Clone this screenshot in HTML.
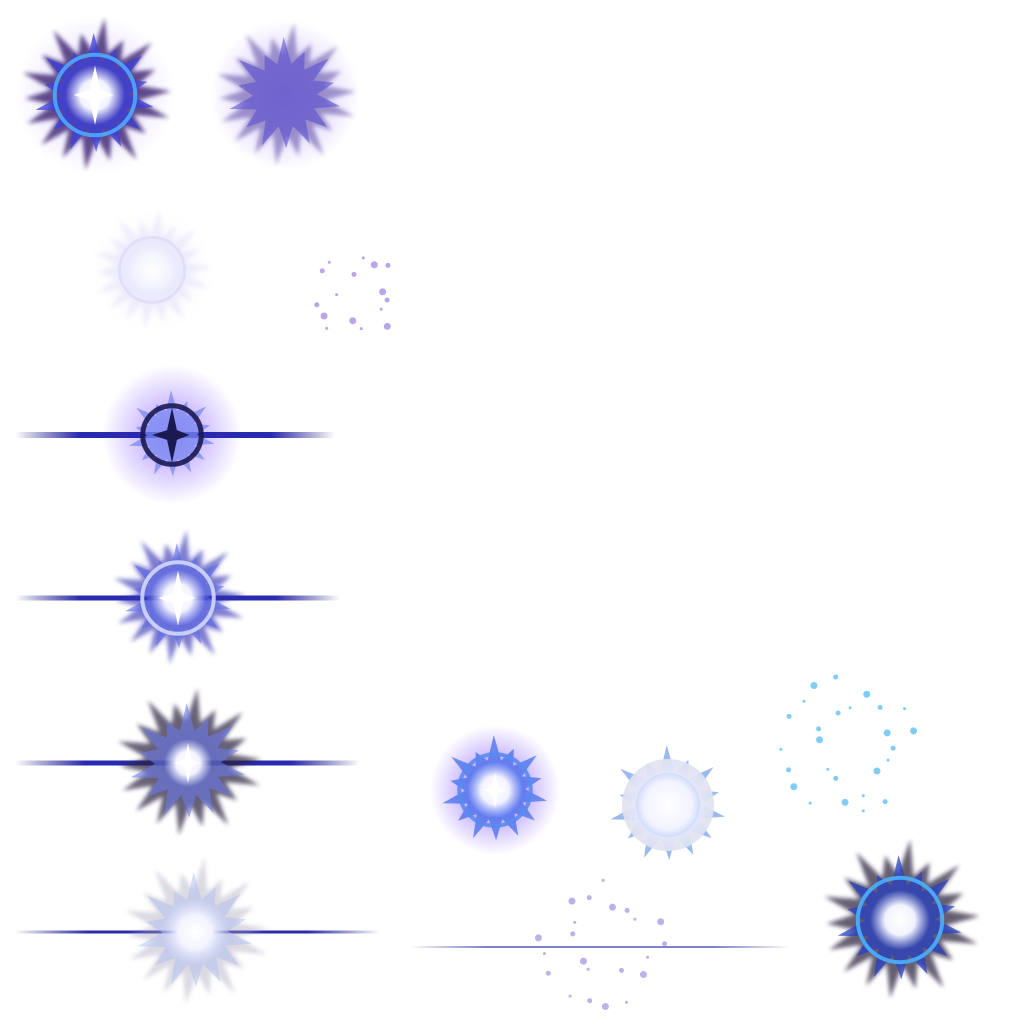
<!DOCTYPE html>
<html><head><meta charset="utf-8"><style>
html,body{margin:0;padding:0;background:#fff;width:1024px;height:1024px;overflow:hidden}
svg{display:block}
</style></head><body>
<svg id="s" width="1024" height="1024" viewBox="0 0 1024 1024" xmlns="http://www.w3.org/2000/svg">
<defs>
<filter id="b2"><feGaussianBlur stdDeviation="2"/></filter>
<radialGradient id="gPurple"><stop offset="0" stop-color="#7a4dff" stop-opacity="0.9"/><stop offset="1" stop-color="#7a4dff" stop-opacity="0"/></radialGradient>
<radialGradient id="gWhite"><stop offset="0" stop-color="#fff"/><stop offset="0.5" stop-color="#f2f3ff"/><stop offset="1" stop-color="#dde0ff" stop-opacity="0"/></radialGradient>
<linearGradient id="gLine" x1="0" x2="1"><stop offset="0" stop-color="#1a1a80" stop-opacity="0"/><stop offset="0.2" stop-color="#2a2ab0"/><stop offset="0.8" stop-color="#2a2ab0"/><stop offset="1" stop-color="#1a1a80" stop-opacity="0"/></linearGradient>
</defs>
<g id="root"></g>
</svg>
<script>
const NS='http://www.w3.org/2000/svg';
const root=document.getElementById('root');
function el(tag,attrs,parent){const e=document.createElementNS(NS,tag);for(const k in attrs)e.setAttribute(k,attrs[k]);(parent||root).appendChild(e);return e;}
function spikes(cx,cy,r0,r1,n,seed){let p=[];for(let i=0;i<n*2;i++){const a=i*Math.PI/n+seed;const f=0.5+0.5*Math.abs(Math.sin(i*2.3+seed*5));const r=i%2?r0:r0+(r1-r0)*f;p.push((cx+r*Math.cos(a)).toFixed(1)+','+(cy+r*Math.sin(a)).toFixed(1));}return p.join(' ');}
function group(name){const g=el('g',{});return g;}
function burst(name,cx,cy,o){
  const g=group(name);
  if(o.glow)el('circle',{cx,cy,r:o.glow,fill:'url(#gPurple)',opacity:o.glowOp||0.8},g);
  if(o.line)el('rect',{x:o.line[0],y:cy-o.line[2]/2,width:o.line[1]-o.line[0],height:o.line[2],fill:'url(#gLine)'},g);
  if(o.dark)el('polygon',{points:spikes(cx,cy,o.r*0.7,o.r*1.25,18,0.3),fill:o.dark,opacity:o.darkOp||0.8,filter:'url(#b2)'},g);
  if(o.blue)el('polygon',{points:spikes(cx,cy,o.r*0.55,o.r,14,1.1),fill:o.blue,opacity:o.blueOp||0.75},g);
  if(o.ring)el('circle',{cx,cy,r:o.r*0.65,fill:'none',stroke:o.ring,'stroke-width':o.ringW||4,opacity:0.9},g);
  if(o.core)el('circle',{cx,cy,r:o.core,fill:'url(#gWhite)'},g);
  if(o.star)el('polygon',{points:spikes(cx,cy,o.star*0.25,o.star,4,0),fill:o.starC||'#fff'},g);
  return g;
}
function dots(name,cx,cy,r,n,col,seed){const g=group(name);for(let i=0;i<n;i++){const a=i*2.39+seed;const d=r*(0.35+0.65*Math.abs(Math.sin(i*1.7+seed)));el('circle',{cx:cx+d*Math.cos(a),cy:cy+d*Math.sin(a),r:1.5+(i%3),fill:col,opacity:0.7},g);}return g;}

burst('effect-dark-burst-1',95,95,{r:62,glow:80,glowOp:0.3,dark:'#3a2070',blue:'#3b3fd8',ring:'#4fa8ff',core:30,star:30});
burst('effect-purple-star',285,95,{r:58,glow:75,glowOp:0.45,dark:'#6a5aa8',darkOp:0.6,blue:'#5a50d0',blueOp:0.6,core:0});
burst('effect-pale-burst',152,270,{r:50,glow:60,glowOp:0.1,dark:'#e0daf5',darkOp:0.4,ring:'#e0daf8',ringW:3,core:35});
dots('effect-scattered-dots-1',355,295,45,16,'#9a80e0',0.5);
burst('effect-dark-star-line',172,435,{r:45,glow:70,glowOp:0.7,line:[15,335,6],blue:'#7a88f0',ring:'#1a1a50',ringW:5,star:28,starC:'#1a1a50'});
burst('effect-blue-burst-line',178,598,{r:55,glow:55,glowOp:0.45,line:[15,340,5],dark:'#3030b0',darkOp:0.6,blue:'#5a6ae8',blueOp:0.6,ring:'#d0d8ff',core:28,star:28});
burst('effect-dark-burst-line',188,763,{r:60,glow:50,glowOp:0.25,line:[15,360,5],dark:'#2a2040',darkOp:0.7,blue:'#6a7ae8',blueOp:0.6,core:24,star:20});
burst('effect-faint-burst-line',195,932,{r:60,glow:40,glowOp:0.1,line:[15,380,3],dark:'#a8a2b8',darkOp:0.4,blue:'#b0c0f0',blueOp:0.5,core:34});
burst('effect-purple-sphere',495,790,{r:55,glow:65,glowOp:0.9,blue:'#3a6ae8',blueOp:0.7,ring:'#5a8af0',core:28,star:18});
burst('effect-white-ring',668,805,{r:60,blue:'#4a80e0',blueOp:0.55,ring:'#e0e2ec',ringW:14,core:48});
dots('effect-scattered-dots-2',845,745,70,26,'#4ab8f0',1.3);
const lg=group('effect-thin-line');el('rect',{x:410,y:946,width:380,height:2,fill:'url(#gLine)',opacity:0.6},lg);
dots('effect-scattered-dots-3',600,945,65,22,'#a090e0',2.1);
burst('effect-dark-burst-2',900,920,{r:65,glow:60,glowOp:0.2,dark:'#403850',blue:'#2a40c0',ring:'#4ab0ff',core:30});
</script>
</body></html>
